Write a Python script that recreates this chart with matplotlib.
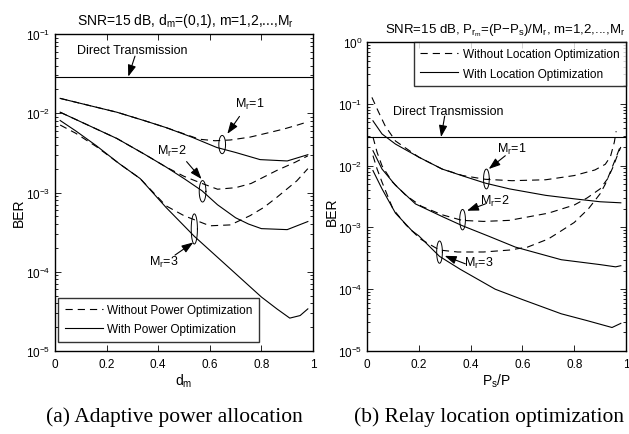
import numpy as np
import matplotlib
matplotlib.use("Agg")
import matplotlib.pyplot as plt
from matplotlib.ticker import LogLocator, NullFormatter, FixedLocator

plt.rcParams['font.family'] = ['Liberation Sans', 'DejaVu Sans']
plt.rcParams['mathtext.fontset'] = 'custom'
plt.rcParams['mathtext.rm'] = 'Liberation Sans'
plt.rcParams['mathtext.it'] = 'Liberation Sans:italic'
plt.rcParams['mathtext.default'] = 'regular'

# ---------------- data: (a) adaptive power allocation ----------------
direct_ber = 0.029

a1_sol_x = [0.02, 0.1, 0.24, 0.35, 0.43, 0.53, 0.627, 0.7, 0.795, 0.9, 0.98]
a1_sol_y = [0.0154, 0.0133, 0.0103, 0.0080, 0.0066, 0.0050, 0.0037, 0.0032, 0.0026, 0.0025, 0.0030]
a1_dash_x = [0.02, 0.1, 0.24, 0.35, 0.43, 0.5, 0.56, 0.62, 0.68, 0.756, 0.82, 0.885, 0.94, 0.98]
a1_dash_y = [0.0154, 0.0133, 0.0103, 0.0080, 0.0066, 0.0055, 0.0047, 0.0045, 0.0046, 0.0050, 0.0056, 0.0063, 0.0071, 0.0078]

a2_sol_x = [0.02, 0.1, 0.24, 0.35, 0.43, 0.5, 0.57, 0.63, 0.7, 0.75, 0.8, 0.9, 0.98]
a2_sol_y = [0.0103, 0.0078, 0.0048, 0.0030, 0.0021, 0.0015, 0.00105, 0.0007, 0.00048, 0.0004, 0.00035, 0.00034, 0.00043]
a2_dash_x = [0.02, 0.1, 0.24, 0.35, 0.43, 0.5, 0.57, 0.63, 0.7, 0.76, 0.86, 0.93, 0.98]
a2_dash_y = [0.0103, 0.0078, 0.0048, 0.0030, 0.0021, 0.0016, 0.0013, 0.0011, 0.00115, 0.0013, 0.0019, 0.0024, 0.0029]

a3_sol_x = [0.02, 0.08, 0.16, 0.25, 0.33, 0.43, 0.54, 0.665, 0.8, 0.86, 0.91, 0.95, 0.98]
a3_sol_y = [0.0081, 0.006, 0.0039, 0.0023, 0.0015, 0.00065, 0.00028, 0.00012, 4.8e-5, 3.4e-5, 2.6e-5, 2.8e-5, 3.4e-5]
a3_dash_x = [0.02, 0.08, 0.16, 0.25, 0.33, 0.43, 0.5, 0.6, 0.68, 0.756, 0.81, 0.86, 0.937, 0.98]
a3_dash_y = [0.0071, 0.0056, 0.0038, 0.0023, 0.0015, 0.00068, 0.00051, 0.00038, 0.00039, 0.00051, 0.00065, 0.00087, 0.0014, 0.002]

# ---------------- data: (b) relay location optimization ----------------
b1_sol_x = [0.023, 0.058, 0.11, 0.2, 0.29, 0.37, 0.457, 0.55, 0.69, 0.8, 0.9, 0.98]
b1_sol_y = [0.053, 0.0325, 0.0223, 0.0137, 0.0088, 0.0068, 0.0052, 0.0042, 0.0033, 0.0029, 0.0026, 0.0025]
b1_dash_x = [0.019, 0.045, 0.07, 0.11, 0.2, 0.29, 0.37, 0.457, 0.56, 0.69, 0.8, 0.88, 0.92, 0.94, 0.955, 0.962]
b1_dash_y = [0.127, 0.073, 0.044, 0.025, 0.0137, 0.0088, 0.0069, 0.006, 0.0057, 0.0059, 0.0069, 0.0085, 0.0105, 0.014, 0.024, 0.036]

b2_sol_x = [0.023, 0.058, 0.11, 0.187, 0.29, 0.367, 0.47, 0.573, 0.75, 0.9, 0.96, 0.98]
b2_sol_y = [0.0174, 0.0088, 0.0048, 0.0024, 0.0015, 0.00107, 0.00072, 0.00048, 0.0003, 0.00025, 0.00023, 0.00024]
b2_dash_x = [0.023, 0.039, 0.058, 0.097, 0.15, 0.21, 0.29, 0.367, 0.45, 0.55, 0.7, 0.8, 0.85, 0.9, 0.93, 0.95, 0.965, 0.98]
b2_dash_y = [0.029, 0.0164, 0.0099, 0.0055, 0.0033, 0.0022, 0.0016, 0.0013, 0.00125, 0.0013, 0.0017, 0.0023, 0.003, 0.0042, 0.0062, 0.0095, 0.014, 0.02]

b3_sol_x = [0.023, 0.058, 0.11, 0.174, 0.2, 0.28, 0.36, 0.495, 0.6, 0.75, 0.85, 0.946, 0.98]
b3_sol_y = [0.0083, 0.0042, 0.0017, 0.00088, 0.00073, 0.00034, 0.00021, 0.0001, 6.8e-5, 4.0e-5, 3.1e-5, 2.4e-5, 2.8e-5]
b3_dash_x = [0.023, 0.039, 0.058, 0.1, 0.15, 0.206, 0.28, 0.35, 0.45, 0.55, 0.62, 0.7, 0.75, 0.8, 0.855, 0.9, 0.92, 0.94, 0.96, 0.975]
b3_dash_y = [0.0145, 0.0088, 0.0054, 0.002, 0.0011, 0.00065, 0.00043, 0.0004, 0.0004, 0.00043, 0.00048, 0.00065, 0.00088, 0.0012, 0.002, 0.0035, 0.005, 0.008, 0.013, 0.019]

x_ticks = [0, 0.2, 0.4, 0.6, 0.8, 1]
x_tick_labels = ['0', '0.2', '0.4', '0.6', '0.8', '1']

# ---------------- figure ----------------
fig = plt.figure(figsize=(6.29, 4.35), dpi=100)
W, H = 629, 435
axA = fig.add_axes([55 / W, 1 - 352 / H, 258 / W, 317 / H])
axB = fig.add_axes([367 / W, 1 - 352 / H, 259 / W, 309 / H])

LW = 0.8
DASH = (0, (6.5, 4.5))


def style_axes(ax, ylim):
    ax.set_yscale('log')
    ax.set_xlim(0, 1)
    ax.set_ylim(*ylim)
    ax.set_xticks(x_ticks)
    ax.set_xticklabels(x_tick_labels)
    ax.yaxis.set_major_locator(LogLocator(base=10, numticks=10))
    ax.yaxis.set_minor_locator(LogLocator(base=10, subs=np.arange(2, 10), numticks=20))
    ax.yaxis.set_minor_formatter(NullFormatter())
    ax.xaxis.set_minor_locator(FixedLocator([]))
    ax.tick_params(which='both', direction='in', top=True, right=True, labelsize=8.5, width=0.6)
    ax.tick_params(which='major', length=4)
    ax.tick_params(which='minor', length=2)
    ax.tick_params(axis='x', pad=5)
    for s in ax.spines.values():
        s.set_linewidth(1.0)


def ellipse(ax, cx, ly, a, b):
    t = np.linspace(0, 2 * np.pi, 80)
    ax.plot(cx + a * np.cos(t), 10 ** (ly + b * np.sin(t)), color='k', lw=0.7)


def arrow(ax, xy, xytext):
    ax.annotate('', xy=xy, xytext=xytext,
                arrowprops=dict(arrowstyle='-|>,head_length=0.7,head_width=0.25',
                                color='k', lw=0.8, shrinkA=0, shrinkB=0))


# ---- panel (a)
ax = axA
ax.axhline(direct_ber, color='k', lw=LW)
ax.plot(a1_dash_x, a1_dash_y, color='k', lw=LW, ls=DASH, label='Without Power Optimization')
ax.plot(a1_sol_x, a1_sol_y, color='k', lw=LW, label='With Power Optimization')
ax.plot(a2_dash_x, a2_dash_y, color='k', lw=LW, ls=DASH)
ax.plot(a2_sol_x, a2_sol_y, color='k', lw=LW)
ax.plot(a3_dash_x, a3_dash_y, color='k', lw=LW, ls=DASH)
ax.plot(a3_sol_x, a3_sol_y, color='k', lw=LW)
style_axes(ax, (1e-5, 1e-1))
ax.set_title('SNR=15 dB, d$_m$=(0,1), m=1,2,...,M$_r$', fontsize=10, pad=7, x=0.505)
ax.set_xlabel('d$_m$', fontsize=10, labelpad=1)
ax.set_ylabel('BER', fontsize=10)
ax.yaxis.set_label_coords(-0.112, 0.44)

ellipse(ax, 0.648, -2.395, 0.013, 0.115)
ellipse(ax, 0.572, -2.985, 0.013, 0.135)
ellipse(ax, 0.54, -3.46, 0.012, 0.19)
arrow(ax, (0.668, 10 ** -2.26), (0.715, 10 ** -2.04))
ax.text(0.756, 10 ** -1.88, 'M$_r$=1', ha='center', va='center', fontsize=9)
arrow(ax, (0.568, 10 ** -2.83), (0.51, 10 ** -2.61))
ax.text(0.452, 10 ** -2.47, 'M$_r$=2', ha='center', va='center', fontsize=9)
arrow(ax, (0.536, 10 ** -3.63), (0.465, 10 ** -3.79))
ax.text(0.42, 10 ** -3.87, 'M$_r$=3', ha='center', va='center', fontsize=9)
arrow(ax, (0.284, direct_ber), (0.31, 10 ** -1.28))
ax.text(0.30, 10 ** -1.2, 'Direct Transmission', ha='center', va='center', fontsize=9)

legA = ax.legend(loc='lower left', bbox_to_anchor=(0.013, 0.029), fontsize=8.5,
                 frameon=True, fancybox=False, edgecolor='k', handlelength=3.2,
                 borderaxespad=0, borderpad=0.55, labelspacing=0.6, handletextpad=0.4)
legA.get_frame().set_linewidth(1.0)

# ---- panel (b)
ax = axB
ax.axhline(direct_ber, color='k', lw=LW)
ax.plot(b1_dash_x, b1_dash_y, color='k', lw=LW, ls=DASH, label='Without Location Optimization')
ax.plot(b1_sol_x, b1_sol_y, color='k', lw=LW, label='With Location Optimization')
ax.plot(b2_dash_x, b2_dash_y, color='k', lw=LW, ls=DASH)
ax.plot(b2_sol_x, b2_sol_y, color='k', lw=LW)
ax.plot(b3_dash_x, b3_dash_y, color='k', lw=LW, ls=DASH)
ax.plot(b3_sol_x, b3_sol_y, color='k', lw=LW)
style_axes(ax, (1e-5, 1e0))
ax.set_title('SNR=15 dB, P$_{r_m}$=(P$-$P$_s$)/M$_r$, m=1,2,...,M$_r$', fontsize=9.5, pad=7, x=0.535)
ax.set_xlabel('P$_s$/P', fontsize=10, labelpad=1)
ax.set_ylabel('BER', fontsize=10)
ax.yaxis.set_label_coords(-0.108, 0.455)

ellipse(ax, 0.461, -2.217, 0.011, 0.16)
ellipse(ax, 0.369, -2.875, 0.011, 0.165)
ellipse(ax, 0.28, -3.40, 0.011, 0.18)
arrow(ax, (0.47, 10 ** -2.055), (0.534, 10 ** -1.84))
ax.text(0.56, 10 ** -1.72, 'M$_r$=1', ha='center', va='center', fontsize=9)
arrow(ax, (0.386, 10 ** -2.73), (0.457, 10 ** -2.62))
ax.text(0.495, 10 ** -2.57, 'M$_r$=2', ha='center', va='center', fontsize=9)
arrow(ax, (0.30, 10 ** -3.46), (0.38, 10 ** -3.59))
ax.text(0.431, 10 ** -3.565, 'M$_r$=3', ha='center', va='center', fontsize=9)
arrow(ax, (0.286, direct_ber), (0.30, 10 ** -1.2))
ax.text(0.314, 10 ** -1.11, 'Direct Transmission', ha='center', va='center', fontsize=9)

legB = ax.legend(loc='upper right', fontsize=8.5, frameon=True, fancybox=False,
                 edgecolor='k', handlelength=3.2, borderaxespad=0, borderpad=0.55,
                 labelspacing=0.6, handletextpad=0.4)
legB.get_frame().set_linewidth(1.0)

# captions
fig.text(174 / W, 1 - 417 / H, '(a) Adaptive power allocation', ha='center', va='center',
         fontsize=15.5, family='Liberation Serif')
fig.text(489 / W, 1 - 417 / H, '(b) Relay location optimization', ha='center', va='center',
         fontsize=15.5, family='Liberation Serif')

fig.savefig('out.png', dpi=100)
